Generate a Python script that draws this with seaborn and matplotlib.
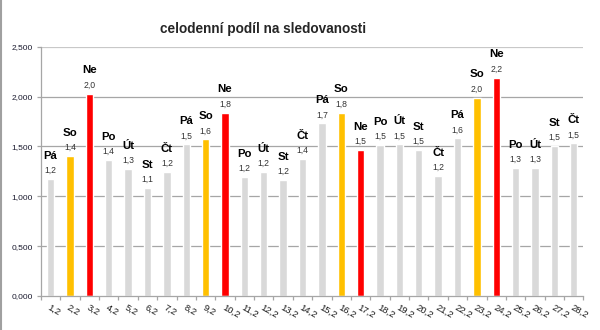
import matplotlib
matplotlib.use("Agg")
import matplotlib.pyplot as plt
from matplotlib.lines import Line2D
from matplotlib.ticker import FuncFormatter, FixedLocator
import seaborn as sns
import pandas as pd

# daily share of viewing, February
dates = [f"{d},2" for d in range(1, 29)]
days = ["Pá", "So", "Ne", "Po", "Út", "St", "Čt",
        "Pá", "So", "Ne", "Po", "Út", "St", "Čt",
        "Pá", "So", "Ne", "Po", "Út", "St", "Čt",
        "Pá", "So", "Ne", "Po", "Út", "St", "Čt"]
values = [1.17, 1.40, 2.03, 1.36, 1.27, 1.08, 1.24,
          1.52, 1.57, 1.84, 1.19, 1.24, 1.16, 1.37,
          1.73, 1.84, 1.46, 1.51, 1.52, 1.46, 1.20,
          1.58, 1.99, 2.19, 1.28, 1.28, 1.50, 1.53]
y_ticks = [0.0, 0.5, 1.0, 1.5, 2.0, 2.5]

day_colors = {"So": "#ffc000", "Ne": "#ff0000"}
default_color = "#d9d9d9"

df = pd.DataFrame({"datum": dates, "den": days, "podil": values})
df["typ"] = [d if d in day_colors else "vsedni" for d in days]
palette = {"So": day_colors["So"], "Ne": day_colors["Ne"], "vsedni": default_color}

sns.set_style("white")
plt.rcParams["font.family"] = ["Liberation Sans", "DejaVu Sans"]

fig = plt.figure(figsize=(6.0, 3.3), dpi=100)
ax = fig.add_axes([41.0 / 600, 1 - 296 / 330, (583.4 - 41.0) / 600, (296 - 46.7) / 330])

sns.barplot(data=df, x="datum", y="podil", hue="typ", palette=palette,
            dodge=False, width=0.38, legend=False, ax=ax, saturation=1)

ax.set_xlim(-0.5, len(dates) - 0.5)
ax.set_ylim(0, 2.5)
ax.set_xlabel("")
ax.set_ylabel("")

grid_col = "#a6a6a6"
ax.yaxis.set_major_locator(FixedLocator(y_ticks))
ax.yaxis.set_major_formatter(FuncFormatter(lambda v, p: f"{v:.3f}".replace(".", ",")))
for t in y_ticks[1:-1]:
    ax.axhline(t, color=grid_col, lw=0.9, zorder=0)
ax.axhline(2.5, color="#c8c8c8", lw=1.6, zorder=0)

for side in ["top", "right"]:
    ax.spines[side].set_visible(False)
for side in ["left", "bottom"]:
    ax.spines[side].set_color(grid_col)
    ax.spines[side].set_linewidth(0.9)

ax.tick_params(axis="y", length=3, width=0.9, color=grid_col, labelsize=6,
               labelcolor="#1a1a2e", pad=3, left=True)
# category labels under centres, tick marks on the boundaries
ax.set_xticks(range(len(dates)))
ax.set_xticklabels(dates, rotation=-30, ha="left", va="top",
                   rotation_mode="anchor", fontsize=6.8, color="#1a1a1a")
ax.tick_params(axis="x", which="major", length=0, pad=5)
ax.set_xticks([i - 0.5 for i in range(len(dates) + 1)], minor=True)
ax.tick_params(axis="x", which="minor", length=2.8, width=0.9, color=grid_col,
               bottom=True)

for i, (v, d) in enumerate(zip(values, days)):
    ax.annotate(f"{v:.1f}".replace(".", ","), (i, v), xytext=(0, 6.2),
                textcoords="offset points", ha="center", va="center",
                fontsize=6.2, color="#333333", annotation_clip=False)
    ax.annotate(d, (i, v), xytext=(0, 17.0), textcoords="offset points",
                ha="center", va="center", fontsize=8.2, fontweight="bold",
                color="black", annotation_clip=False)

fig.text(263 / 600, 1 - 29 / 330, "celodenní podíl na sledovanosti",
         ha="center", va="center", fontsize=9.8, fontweight="bold")

fig.add_artist(Line2D([0.0015, 0.0015], [0, 1], transform=fig.transFigure,
                      color="#a0a0a0", lw=1.5))

fig.savefig("out.png", dpi=100)
